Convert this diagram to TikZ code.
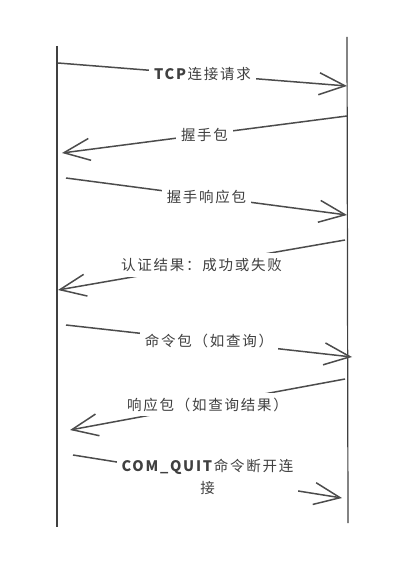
\documentclass[tikz,border=0pt]{standalone}
\usepackage{fontspec}
\newfontfamily\cjk[LetterSpace=12]{Noto Sans CJK SC}
\usetikzlibrary{arrows.meta}

\begin{document}
\begin{tikzpicture}[x=1pt,y=-1pt,
	life/.style={line width=1.2pt, draw=black!75},
	msg/.style={line width=1.5pt, draw=black!70, -{Straight Barb[length=26pt,width=22pt,line width=1.5pt]}},
	lbl/.style={fill=white, text=black!75, font=\cjk\fontsize{14.5}{22}\selectfont, inner sep=5pt, align=center}]
				\useasboundingbox (0,0) rectangle (412,572);
				% lifelines
				\coordinate (ctop) at (57,46);
				\coordinate (cbot) at (57,527);
				\coordinate (stop) at (347,37);
				\coordinate (sbot) at (348,523);
				\draw[life] (ctop) -- (cbot);
				\draw[life] (stop) -- (sbot);
				% message ends
				\coordinate (c1) at (58,63);  \coordinate (s1) at (347,86);
				\coordinate (s2) at (347,116); \coordinate (c2) at (62,153);
				\coordinate (c3) at (66,178); \coordinate (s3) at (347,215);
				\coordinate (s4) at (345,240); \coordinate (c4) at (58,290);
				\coordinate (c5) at (66,325); \coordinate (s5) at (352,357);
				\coordinate (s6) at (345,379); \coordinate (c6) at (70,430);
				\coordinate (c7) at (73,455); \coordinate (s7) at (342,498);
				% messages
				\draw[msg] (c1) -- node[lbl] (m1) {\textbf{TCP}连接请求} (s1);
				\draw[msg] (s2) -- node[lbl] (m2) {握手包} (c2);
				\draw[msg] (c3) -- node[lbl] (m3) {握手响应包} (s3);
				\draw[msg] (s4) -- node[lbl] (m4) {认证结果：成功或失败} (c4);
				\draw[msg] (c5) -- node[lbl] (m5) {命令包（如查询）} (s5);
				\draw[msg] (s6) -- node[lbl] (m6) {响应包（如查询结果）} (c6);
				\draw[msg] (c7) -- node[lbl] (m7) {\textbf{COM\_QUIT}命令断开连\\接} (s7);
\end{tikzpicture}
\end{document}
